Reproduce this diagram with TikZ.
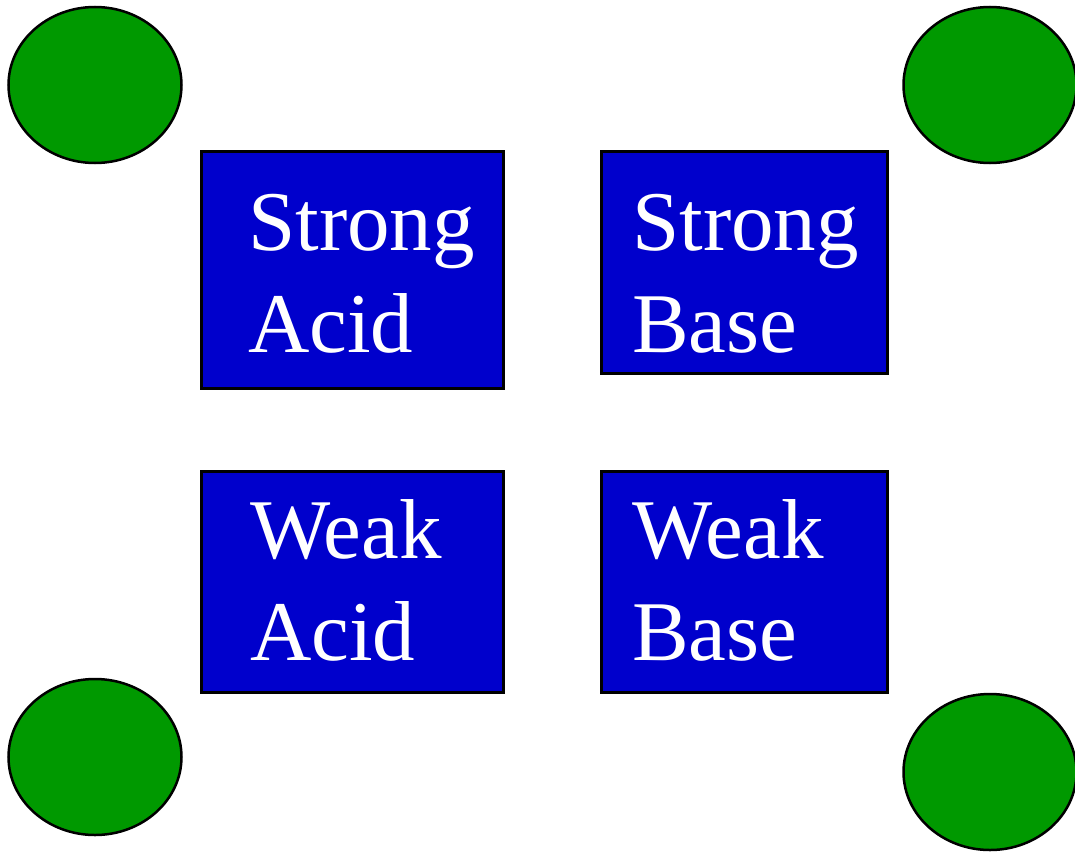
\documentclass[tikz,border=0pt]{standalone}
\usepackage{fontspec}
\setmainfont{Liberation Serif}
\usetikzlibrary{shapes.geometric}
\definecolor{boxblue}{HTML}{0000CC}
\definecolor{dotgreen}{HTML}{009900}
\begin{document}
\begin{tikzpicture}[x=1pt,y=-1pt,
  box/.style={draw=black, line width=2.5pt, fill=boxblue, anchor=north west, inner sep=0pt},
  dot/.style={draw=black, line width=2.5pt, fill=dotgreen, ellipse, inner sep=0pt, minimum width=173pt, minimum height=156pt},
  lbl/.style={text=white, font=\fontsize{85}{102}\selectfont, align=left, anchor=base west, inner sep=0pt}]
\useasboundingbox (0,0) rectangle (1075,851);
\node[dot] (tl) at (95,85) {};
\node[dot] (tr) at (990,85) {};
\node[dot] (bl) at (95,757) {};
\node[dot] (br) at (990,772) {};
\node[box, minimum width=302pt, minimum height=237pt] (sa) at (200,150) {};
\node[box, minimum width=286pt, minimum height=222pt] (sb) at (600,150) {};
\node[box, minimum width=302pt, minimum height=221pt] (wa) at (200,470) {};
\node[box, minimum width=286pt, minimum height=221pt] (wb) at (600,470) {};
\node[lbl] (saT) at (248,352) {Strong\\Acid};
\node[lbl] (sbT) at (632,352) {Strong\\Base};
\node[lbl] (waT) at (250,660) {Weak\\Acid};
\node[lbl] (wbT) at (632,660) {Weak\\Base};
\end{tikzpicture}
\end{document}
